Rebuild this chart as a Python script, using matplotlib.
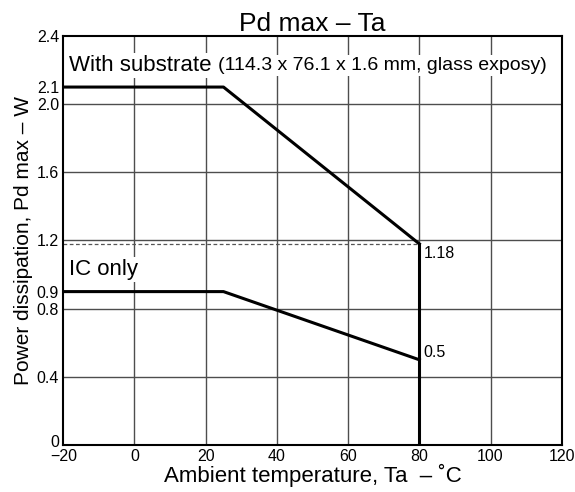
import matplotlib
matplotlib.use('Agg')
import matplotlib.pyplot as plt
import matplotlib.transforms as mtransforms

plt.rcParams['font.family'] = ['Liberation Sans', 'DejaVu Sans']

# curves
ta = [-20, 25, 80]
pd_substrate = [2.1, 2.1, 1.18]
pd_ic_only = [0.9, 0.9, 0.5]
x_cut = 80
y_ticks = [0, 0.4, 0.8, 0.9, 1.2, 1.6, 2.0, 2.1, 2.4]
y_labels = ['0', '0.4', '0.8', '0.9', '1.2', '1.6', '2.0', '2.1', '2.4']
x_ticks = [-20, 0, 20, 40, 60, 80, 100, 120]
x_labels = ['\u221220', '0', '20', '40', '60', '80', '100', '120']

fig = plt.figure(figsize=(5.75, 4.92), dpi=100)
ax = fig.add_axes([0.110, 0.0955, 0.867, 0.8315])

ax.set_xlim(-20, 120)
ax.set_ylim(0, 2.4)

for x in x_ticks[1:-1]:
    ax.axvline(x, color='#4d4d4d', lw=1.0, zorder=1)
for y in [0.4, 0.8, 1.2, 1.6, 2.0]:
    ax.axhline(y, color='#4d4d4d', lw=1.0, zorder=1)

ax.plot([-20, x_cut], [pd_substrate[-1]] * 2, color='#555555', lw=0.9,
        linestyle=(0, (3, 2)), zorder=2)

ax.plot(ta, pd_substrate, color='black', lw=2.2, zorder=3)
ax.plot(ta, pd_ic_only, color='black', lw=2.2, zorder=3)
ax.plot([x_cut, x_cut], [0, pd_substrate[-1]], color='black', lw=2.2, zorder=3)

ax.text(x_cut + 1.2, pd_substrate[-1] - 0.01, '1.18', fontsize=11.5, va='top', ha='left')
ax.text(x_cut + 1.2, pd_ic_only[-1] + 0.04, '0.5', fontsize=11.5, va='center', ha='left')

bbox = dict(facecolor='white', edgecolor='none', pad=1.5)
t = ax.text(-18.3, 2.225, 'With substrate ', fontsize=16, va='center', ha='left',
            bbox=bbox, zorder=4)
ax.annotate('(114.3 x 76.1 x 1.6 mm, glass exposy)', xycoords=t, xy=(1, 0.5),
            fontsize=14, va='center', ha='left', bbox=bbox, zorder=4)
ax.text(-18.3, 1.03, 'IC only', fontsize=16, va='center', ha='left',
        bbox=bbox, zorder=4)

ax.set_xticks(x_ticks)
ax.set_xticklabels(x_labels)
ax.set_yticks(y_ticks)
ax.set_yticklabels(y_labels)
ax.tick_params(length=0, labelsize=11.5, pad=3)

# nudge the y "0" up so it clears the "-20" below it
zero_lbl = ax.get_yticklabels()[0]
zero_lbl.set_transform(zero_lbl.get_transform() +
                       mtransforms.ScaledTranslation(0, 3 / 72, fig.dpi_scale_trans))

for s in ax.spines.values():
    s.set_linewidth(1.5)

ax.set_xlabel('Ambient temperature, Ta  \u2013 \u02daC', fontsize=16, labelpad=0)
ax.set_ylabel('Power dissipation, Pd max \u2013 W', fontsize=15, labelpad=3)
ax.set_title('Pd max \u2013 Ta', fontsize=19, pad=2)

fig.savefig('out.png', dpi=100)
